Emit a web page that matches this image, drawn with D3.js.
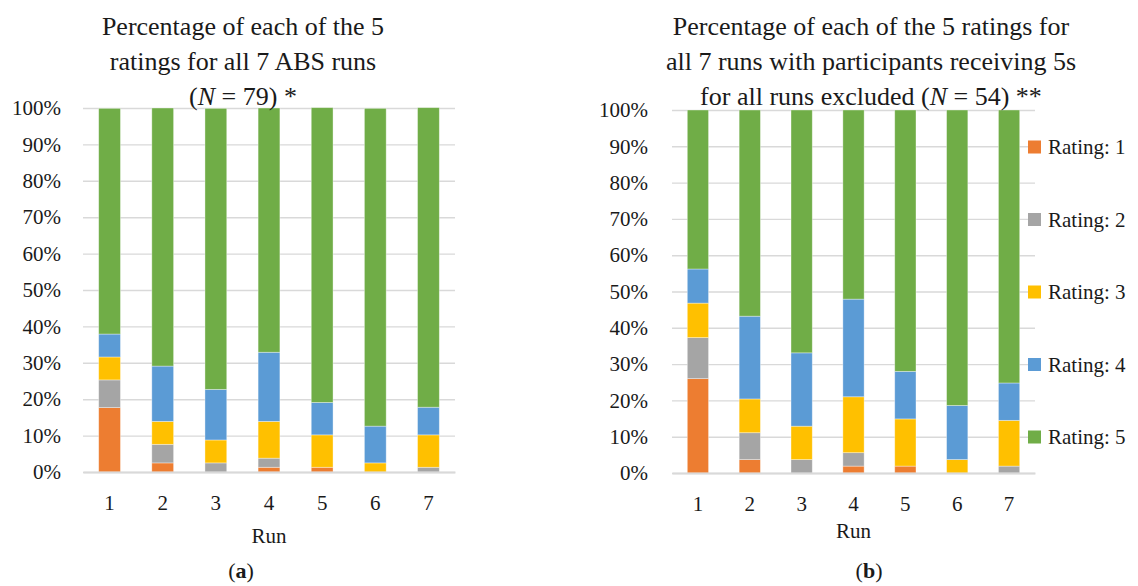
<!DOCTYPE html>
<html>
<head>
<meta charset="utf-8">
<script src="https://cdn.jsdelivr.net/npm/d3@7/dist/d3.min.js"></script>
<style>
  html, body { margin: 0; padding: 0; background: #fff; }
  svg { display: block; font-family: "Liberation Serif", "Times New Roman", serif; }
</style>
</head>
<body>
<svg id="fig" width="1138" height="586"></svg>
<script>
// Runs on the x axis
const runs = ["1", "2", "3", "4", "5", "6", "7"];

// Rating categories and legend labels
const ratingKeys = ["r1", "r2", "r3", "r4", "r5"];
const ratingLabels = ["Rating: 1", "Rating: 2", "Rating: 3", "Rating: 4", "Rating: 5"];

// Y tick values (percent)
const yTicks = [0, 10, 20, 30, 40, 50, 60, 70, 80, 90, 100];

// Panel (a): all participants, N = 79 — percentage per run for each rating
const allRating1 = [17.7, 2.5, 0.0, 1.3, 1.3, 0.0, 0.0];
const allRating2 = [7.6, 5.1, 2.5, 2.5, 0.0, 0.0, 1.3];
const allRating3 = [6.3, 6.3, 6.3, 10.1, 8.9, 2.5, 8.9];
const allRating4 = [6.3, 15.2, 13.9, 19.0, 8.9, 10.1, 7.6];
const allRating5 = [62.0, 70.9, 77.2, 67.1, 81.0, 87.3, 82.3];

// Panel (b): participants with all-5 ratings excluded, N = 54
const exclRating1 = [26.0, 3.7, 0.0, 1.9, 1.9, 0.0, 0.0];
const exclRating2 = [11.3, 7.4, 3.7, 3.7, 0.0, 0.0, 1.9];
const exclRating3 = [9.5, 9.3, 9.2, 15.4, 13.0, 3.7, 12.6];
const exclRating4 = [9.4, 22.8, 20.2, 26.9, 13.1, 14.9, 10.3];
const exclRating5 = [43.8, 56.8, 66.9, 52.1, 72.0, 81.4, 75.2];

// Office palette for the five ratings
const ratingColors = ["#ED7D31", "#A5A5A5", "#FFC000", "#5B9BD5", "#70AD47"];

const titleA = ["Percentage of each of the 5", "ratings for all 7 ABS runs", ["(", "N", " = 79) *"]];
const titleB = ["Percentage of each of the 5 ratings for", "all 7 runs with participants receiving 5s", ["for all runs excluded (", "N", " = 54) **"]];

function buildTable(series) {
  return runs.map((run, i) => {
    const row = { run };
    ratingKeys.forEach((k, j) => { row[k] = series[j][i]; });
    return row;
  });
}

const svg = d3.select("#fig");
svg.append("rect").attr("width", 1138).attr("height", 586).attr("fill", "#fff");

const color = d3.scaleOrdinal().domain(ratingKeys).range(ratingColors);
const stack = d3.stack().keys(ratingKeys);

function drawPanel(opts) {
  const table = buildTable(opts.series);
  const x = d3.scaleBand().domain(runs).range([opts.x0, opts.x1]).paddingInner(0.59).paddingOuter(0.295);
  const y = d3.scaleLinear().domain([0, 100]).range([opts.y0, opts.y1]);
  const g = svg.append("g");

  // Gridlines and percentage labels
  const yAxis = g.append("g")
    .attr("transform", `translate(${opts.x0},0)`)
    .call(d3.axisLeft(y).tickValues(yTicks).tickSize(-(opts.x1 - opts.x0))
      .tickPadding(opts.labelPad).tickFormat(d => d + "%"));
  yAxis.select(".domain").remove();
  yAxis.selectAll(".tick line").attr("stroke", "#D9D9D9").attr("stroke-width", 1.4);
  yAxis.selectAll(".tick text").attr("fill", "#1a1a1a").style("font-size", "21px")
    .style("font-family", "'Liberation Serif', serif");

  // Stacked bars
  const layers = stack(table);
  g.append("g").selectAll("g").data(layers).join("g")
    .attr("fill", d => color(d.key))
    .selectAll("rect").data(d => d).join("rect")
    .attr("x", d => x(d.data.run))
    .attr("width", x.bandwidth())
    .attr("y", d => y(d[1]))
    .attr("height", d => Math.max(0, y(d[0]) - y(d[1])))
    .attr("stroke", "rgba(255,255,255,0.45)")
    .attr("stroke-width", 0.8);

  // Category axis
  const xAxis = g.append("g")
    .attr("transform", `translate(0,${opts.y0})`)
    .call(d3.axisBottom(x).tickSize(0).tickPadding(23));
  xAxis.select(".domain").attr("stroke", "#D9D9D9").attr("stroke-width", 2.2);
  xAxis.selectAll(".tick text").attr("fill", "#1a1a1a").style("font-size", "21px")
    .style("font-family", "'Liberation Serif', serif");

  g.append("text")
    .attr("x", (opts.x0 + opts.x1) / 2).attr("y", opts.runY)
    .attr("text-anchor", "middle").attr("fill", "#1a1a1a").style("font-size", "21px")
    .text("Run");

  // Title
  const t = g.append("text").attr("text-anchor", "middle").attr("fill", "#1a1a1a").style("font-size", "26px");
  opts.title.forEach((line, i) => {
    const ts = t.append("tspan").attr("x", opts.titleX).attr("y", 34.5 + 35 * i);
    if (Array.isArray(line)) {
      ts.append("tspan").text(line[0]);
      ts.append("tspan").style("font-style", "italic").text(line[1]);
      ts.append("tspan").text(line[2]);
    } else {
      ts.text(line);
    }
  });

  // Panel caption
  const cap = g.append("text").attr("x", opts.capX).attr("y", 578)
    .attr("text-anchor", "middle").attr("fill", "#1a1a1a").style("font-size", "22px");
  cap.append("tspan").text("(");
  cap.append("tspan").style("font-weight", "bold").text(opts.cap);
  cap.append("tspan").text(")");
}

drawPanel({
  series: [allRating1, allRating2, allRating3, allRating4, allRating5],
  x0: 83, x1: 455, y0: 472, y1: 108, labelPad: 22,
  runY: 543, title: titleA, titleX: 243, capX: 241, cap: "a"
});

drawPanel({
  series: [exclRating1, exclRating2, exclRating3, exclRating4, exclRating5],
  x0: 672, x1: 1035, y0: 473, y1: 110, labelPad: 24,
  runY: 538, title: titleB, titleX: 871, capX: 869, cap: "b"
});

// Legend for the five ratings
const legend = svg.append("g").attr("transform", "translate(1028,0)");
const legendY = d3.scalePoint().domain(ratingLabels).range([147, 437]);
const items = legend.selectAll("g").data(ratingLabels).join("g")
  .attr("transform", d => `translate(0,${legendY(d)})`);
items.append("rect").attr("x", 0).attr("y", -6.5).attr("width", 13).attr("height", 13)
  .attr("fill", (d, i) => ratingColors[i]);
items.append("text").attr("x", 20).attr("dy", "0.35em").attr("fill", "#1a1a1a")
  .style("font-size", "21px").text(d => d);
</script>
</body>
</html>
